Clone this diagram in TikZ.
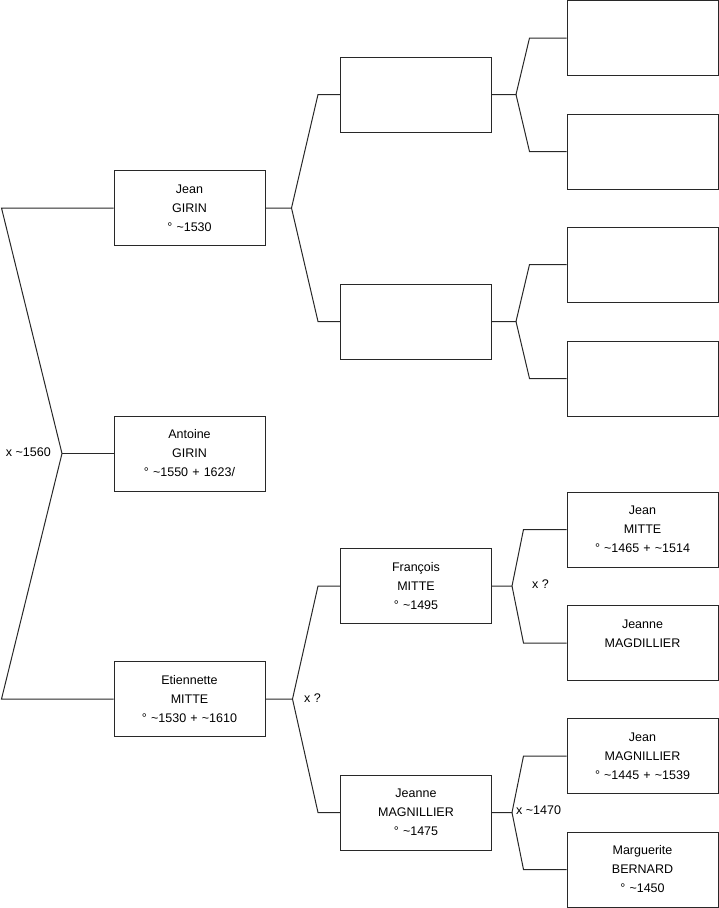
\documentclass[tikz,border=0pt]{standalone}
\usepackage{fontspec}
\setmainfont{Liberation Sans}
\usetikzlibrary{positioning, calc}
\definecolor{treeLine}{RGB}{40, 40, 40}
\tikzset{
  person/.style={
    rectangle, draw=treeLine, line width=1pt,
    fill=white,
    minimum width=151pt, minimum height=75pt,
    text width=140pt, align=center,
    font=\fontsize{12.5}{19}\selectfont, inner sep=0pt
  },
  link/.style={draw=treeLine, line width=1pt},
  union/.style={font=\fontsize{12.5}{15}\selectfont, inner sep=0pt}
}
\begin{document}
\begin{tikzpicture}[x=1pt, y=-1pt]
\useasboundingbox (0,0) rectangle (719,908);

\def\colA{189.5}
\def\colB{416}
\def\colC{642.5}

%% GENERATION 1
\node[person] (antoine) at (\colA, 453.5) {Antoine\\GIRIN\\° \textasciitilde1550 + 1623/};

%% GENERATION 2
\node[person] (jean) at (\colA, 208) {Jean\\GIRIN\\° \textasciitilde1530};
\node[person] (etiennette) at (\colA, 699) {Etiennette\\MITTE\\° \textasciitilde1530 + \textasciitilde1610};

%% GENERATION 3
\node[person] (girinpa) at (\colB, 94.5) {};
\node[person] (girinma) at (\colB, 321.5) {};
\node[person] (francois) at (\colB, 586) {François\\MITTE\\° \textasciitilde1495};
\node[person] (jeannemag) at (\colB, 812.5) {Jeanne\\MAGNILLIER\\° \textasciitilde1475};

%% GENERATION 4
\node[person] (gpa1) at (\colC, 38) {};
\node[person] (gma1) at (\colC, 151.5) {};
\node[person] (gpa2) at (\colC, 264.5) {};
\node[person] (gma2) at (\colC, 378.5) {};
\node[person] (jeanmitte) at (\colC, 529.5) {Jean\\MITTE\\° \textasciitilde1465 + \textasciitilde1514};
\node[person] (magdillier) at (\colC, 643) {Jeanne\\MAGDILLIER\\\mbox{}};
\node[person] (jeanmag) at (\colC, 756) {Jean\\MAGNILLIER\\° \textasciitilde1445 + \textasciitilde1539};
\node[person] (bernard) at (\colC, 869.5) {Marguerite\\BERNARD\\° \textasciitilde1450};

%% LINKS
% Antoine -> parents
\coordinate (f1) at (62, 453.5);
\draw[link] (antoine.west) -- (f1);
\draw[link] (jean.west) -- ++(-112,0) -- (f1);
\draw[link] (etiennette.west) -- ++(-112,0) -- (f1);
\node[union, anchor=east] (u1) at (51, 452) {x \textasciitilde1560};

% Jean -> parents
\draw[link] (jean.east) -- ++(26,0) coordinate (f2)
  -- ([xshift=-22pt]girinpa.west) -- (girinpa.west);
\draw[link] (f2) -- ([xshift=-22pt]girinma.west) -- (girinma.west);

% Etiennette -> parents
\draw[link] (etiennette.east) -- ++(27,0) coordinate (f3)
  -- ([xshift=-22pt]francois.west) -- (francois.west);
\draw[link] (f3) -- ([xshift=-22pt]jeannemag.west) -- (jeannemag.west);
\node[union, anchor=west] (u3) at (304, 698) {x ?};

% grand-parents -> parents
\draw[link] (girinpa.east) -- ++(24,0) coordinate (f4)
  -- ([xshift=-37pt]gpa1.west) -- (gpa1.west);
\draw[link] (f4) -- ([xshift=-37pt]gma1.west) -- (gma1.west);

\draw[link] (girinma.east) -- ++(24,0) coordinate (f5)
  -- ([xshift=-37pt]gpa2.west) -- (gpa2.west);
\draw[link] (f5) -- ([xshift=-37pt]gma2.west) -- (gma2.west);

\draw[link] (francois.east) -- ++(20,0) coordinate (f6)
  -- ([xshift=-43pt]jeanmitte.west) -- (jeanmitte.west);
\draw[link] (f6) -- ([xshift=-43pt]magdillier.west) -- (magdillier.west);
\node[union, anchor=west] (u6) at (532, 584) {x ?};

\draw[link] (jeannemag.east) -- ++(20,0) coordinate (f7)
  -- ([xshift=-43pt]jeanmag.west) -- (jeanmag.west);
\draw[link] (f7) -- ([xshift=-43pt]bernard.west) -- (bernard.west);
\node[union, anchor=west] (u7) at (516, 810) {x \textasciitilde1470};

\end{tikzpicture}
\end{document}
